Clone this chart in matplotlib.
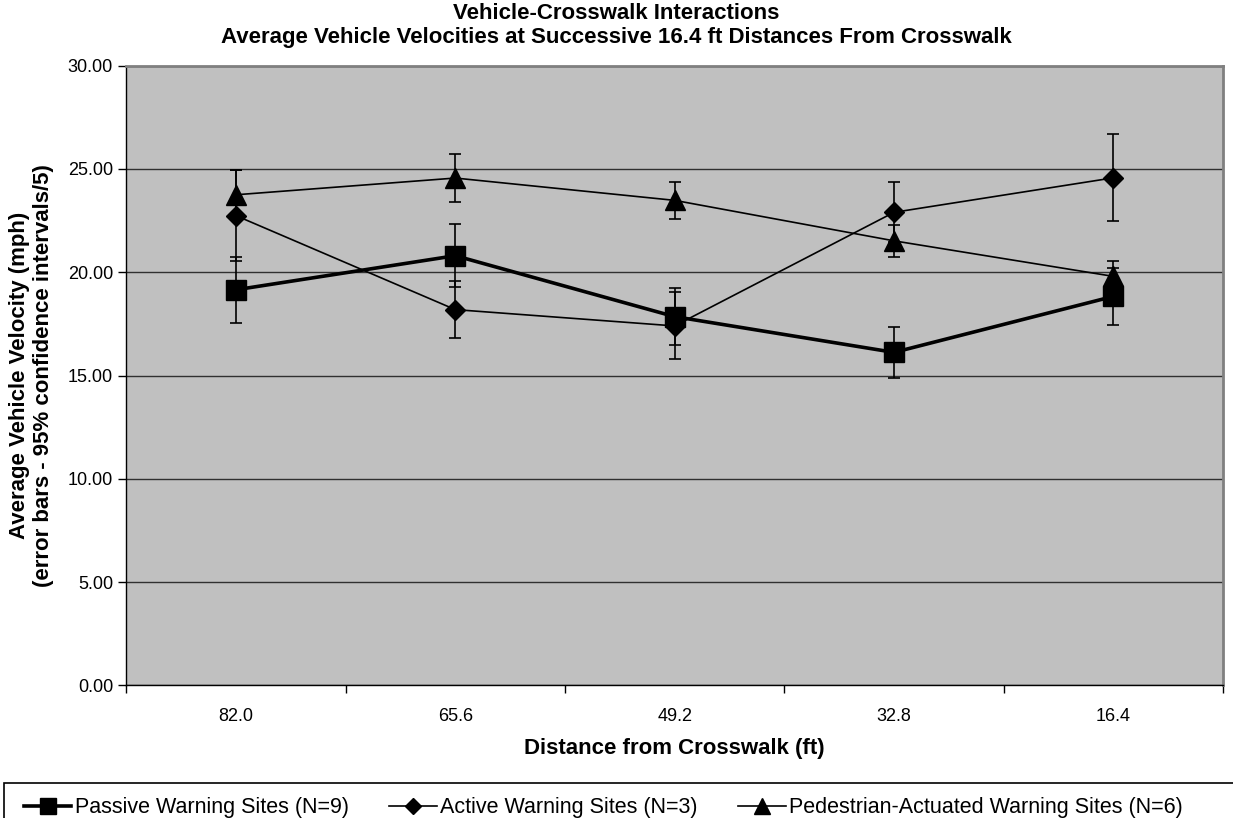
import matplotlib
matplotlib.use("Agg")
import matplotlib.pyplot as plt
from matplotlib.lines import Line2D
from matplotlib.patches import Rectangle

plt.rcParams['font.family'] = ['Liberation Sans', 'DejaVu Sans']

# distances from crosswalk (ft)
categories = ["82.0", "65.6", "49.2", "32.8", "16.4"]

# average velocities (mph) and error bar half widths
passive = [19.15, 20.80, 17.85, 16.12, 18.83]
passive_err = [1.61, 1.53, 1.38, 1.25, 1.37]
active = [22.74, 18.19, 17.40, 22.90, 24.57]
active_err = [2.21, 1.37, 1.62, 1.45, 2.10]
pedestrian = [23.75, 24.56, 23.48, 21.52, 19.80]
pedestrian_err = [1.21, 1.15, 0.90, 0.78, 0.76]

labels = ["Passive Warning Sites (N=9)", "Active Warning Sites (N=3)",
          "Pedestrian-Actuated Warning Sites (N=6)"]

W, H = 1233, 818
fig = plt.figure(figsize=(W / 100, H / 100), dpi=100)
ax = fig.add_axes([0.1024, 0.1622, 0.8895, 0.7575])
ax.set_facecolor('#C0C0C0')

x = list(range(len(categories)))

ax.errorbar(x, passive, yerr=passive_err, color='black', lw=2.6, marker='s',
            markersize=14, ecolor='black', elinewidth=1.2, capsize=4, capthick=1.2, zorder=3)
ax.errorbar(x, active, yerr=active_err, color='black', lw=1.2, marker='D',
            markersize=10, ecolor='black', elinewidth=1.2, capsize=4, capthick=1.2, zorder=3)
ax.errorbar(x, pedestrian, yerr=pedestrian_err, color='black', lw=1.2, marker='^',
            markersize=14, ecolor='black', elinewidth=1.2, capsize=4, capthick=1.2, zorder=3)

ax.set_xlim(-0.5, len(categories) - 0.5)
ax.set_ylim(0, 30)
ax.set_yticks([0, 5, 10, 15, 20, 25, 30])
ax.set_yticklabels(["%.2f" % v for v in [0, 5, 10, 15, 20, 25, 30]], fontsize=13)
ax.yaxis.grid(True, color='#303030', lw=1.0)
ax.set_axisbelow(True)

# ticks between categories, labels at the categories
ax.set_xticks([i - 0.5 for i in range(len(categories) + 1)])
ax.set_xticklabels([])
ax.set_xticks(x, minor=True)
ax.set_xticklabels(categories, minor=True, fontsize=13)
ax.tick_params(axis='x', which='minor', length=0, pad=16)
ax.tick_params(axis='both', which='major', direction='out', length=6, width=1)

for s in ['top', 'right']:
    ax.spines[s].set_color('#808080')
    ax.spines[s].set_linewidth(2)
for s in ['left', 'bottom']:
    ax.spines[s].set_color('black')
    ax.spines[s].set_linewidth(1)

fig.text(0.5, 1 - 3 / H,
         "Vehicle-Crosswalk Interactions\nAverage Vehicle Velocities at Successive 16.4 ft Distances From Crosswalk",
         ha='center', va='top', fontsize=16, fontweight='bold', linespacing=1.2)
ax.set_xlabel("Distance from Crosswalk (ft)", fontsize=16, fontweight='bold', labelpad=10)
ax.set_ylabel("Average Vehicle Velocity (mph)\n(error bars - 95% confidence intervals/5)",
              fontsize=16, fontweight='bold', labelpad=10)

# legend box runs off the bottom and right of the picture
fig.patches.append(Rectangle((4 / W, -0.05), 1.2, (H - 783) / H + 0.05, transform=fig.transFigure,
                             facecolor='white', edgecolor='black', lw=1.2, zorder=0))
handles = [
    Line2D([], [], color='black', lw=2.6, marker='s', markersize=11),
    Line2D([], [], color='black', lw=1.2, marker='D', markersize=8),
    Line2D([], [], color='black', lw=1.2, marker='^', markersize=11),
]
leg = fig.legend(handles, labels, ncol=3, loc='center left', bbox_to_anchor=(24 / W, 1 - 808 / H),
                 fontsize=15.5, frameon=False, borderaxespad=0, borderpad=0,
                 handlelength=2.2, handletextpad=0.15, columnspacing=1.9)

fig.savefig("out.png", dpi=100)
